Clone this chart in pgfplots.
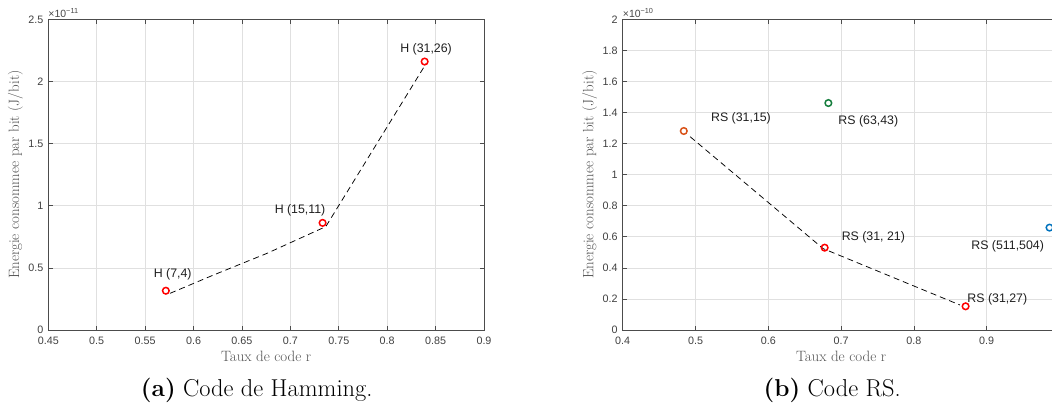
\documentclass[border=0pt]{standalone}
\usepackage{fontspec}
\usepackage{pgfplots}
\pgfplotsset{compat=1.18}
\newfontfamily\hel{Liberation Sans}
\definecolor{mred}{rgb}{1,0,0}
\definecolor{morange}{rgb}{0.85,0.325,0.098}
\definecolor{mgreen}{RGB}{20,125,60}
\definecolor{mblue}{rgb}{0,0.447,0.741}
\definecolor{axgray}{gray}{0.3}
\definecolor{gridgray}{gray}{0.88}
\tikzset{ann/.style={font=\hel\fontsize{12.4}{14}\selectfont, text=black!88, inner sep=0pt, anchor=center},
  mult/.style={font=\hel\fontsize{10.5}{12}\selectfont, text=black!72, inner sep=0pt, anchor=base west}}
\pgfplotsset{
  mstyle/.style={
    scale only axis, height=310.7bp,
    axis line style={axgray, line width=0.7bp},
    every tick/.style={axgray, line width=0.7bp},
    tick align=inside, major tick length=4.5bp,
    grid=major, major grid style={gridgray, line width=0.7bp},
    tick label style={font=\hel\fontsize{10.8}{12}\selectfont, text=black!75},
    xticklabel style={yshift=-3bp},
    yticklabel style={xshift=-1.5bp},
    /pgf/number format/assume math mode=true,
    label style={font=\fontsize{15}{18}\selectfont, text=black!68},
    xlabel style={at={(axis description cs:0.5,0)}, anchor=center, yshift=-26bp},
    ylabel style={at={(axis description cs:-0.0755,0.5)}, anchor=center},
    scaled ticks=false,
    clip=false,
    xlabel={Taux de code r},
    ylabel={Energie consommee par bit (J/bit)},
  },
  mk/.style={only marks, mark=o, mark size=3.3bp, line width=1.5bp, color=#1},
  dl/.style={black, line width=0.75bp, dash pattern=on 6bp off 4bp, no marks},
}
\begin{document}
\begin{tikzpicture}
% ---------- (a) Hamming ----------
\begin{axis}[mstyle, at={(48.3bp,-330bp)}, anchor=south west,
  width=435.7bp, xmin=0.45, xmax=0.9, ymin=0, ymax=2.5,
  xtick={0.45,0.5,0.55,0.6,0.65,0.7,0.75,0.8,0.85,0.9},
  ytick={0,0.5,1,1.5,2,2.5}]
\addplot[dl] coordinates {(0.5757,0.295) (0.6205,0.442) (0.6756,0.616) (0.7366,0.832) (0.8402,2.144)};
\addplot[mk=mred] coordinates {(0.5714,0.316) (0.7333,0.862) (0.8387,2.160)};
\node[ann] at (axis cs:0.5785,0.448) {H (7,4)};
\node[ann] at (axis cs:0.7100,0.965) {H (15,11)};
\node[ann] at (axis cs:0.8402,2.259) {H (31,26)};
\node[mult] at (rel axis cs:0,1) [yshift=2.3bp] {×10\textsuperscript{−11}};
\end{axis}
% ---------- (b) RS ----------
\begin{axis}[mstyle, at={(622.7bp,-330bp)}, anchor=south west,
  width=436.8bp, xmin=0.4, xmax=1.0, ymin=0, ymax=2,
  xtick={0.4,0.5,0.6,0.7,0.8,0.9},
  ytick={0,0.2,0.4,0.6,0.8,1,1.2,1.4,1.6,1.8,2}]
\addplot[dl] coordinates {(0.4927,1.244) (0.6753,0.524) (0.8633,0.161)};
\addplot[mk=morange] coordinates {(0.4839,1.281)};
\addplot[mk=mgreen] coordinates {(0.6825,1.461)};
\addplot[mk=mred] coordinates {(0.6774,0.530) (0.8710,0.1525)};
\addplot[mk=mblue] coordinates {(0.9863,0.659)};
\node[ann] at (axis cs:0.5625,1.362) {RS (31,15)};
\node[ann] at (axis cs:0.7374,1.345) {RS (63,43)};
\node[ann] at (axis cs:0.7443,0.594) {RS (31, 21)};
\node[ann] at (axis cs:0.9146,0.1996) {RS (31,27)};
\node[ann] at (axis cs:0.9288,0.541) {RS (511,504)};
\node[mult] at (rel axis cs:0,1) [yshift=2.3bp] {×10\textsuperscript{−10}};
\end{axis}
% ---------- captions ----------
\node[font=\fontsize{24.5}{29}\selectfont, anchor=center, inner sep=0pt] at (256.7bp,-390.5bp) {\textbf{(a)} Code de Hamming.};
\node[font=\fontsize{24.5}{29}\selectfont, anchor=center, inner sep=0pt] at (832.2bp,-390.5bp) {\textbf{(b)} Code RS.};
\pgfresetboundingbox
\path[use as bounding box] (0,-410bp) rectangle (1052bp,0);
\end{tikzpicture}
\end{document}
